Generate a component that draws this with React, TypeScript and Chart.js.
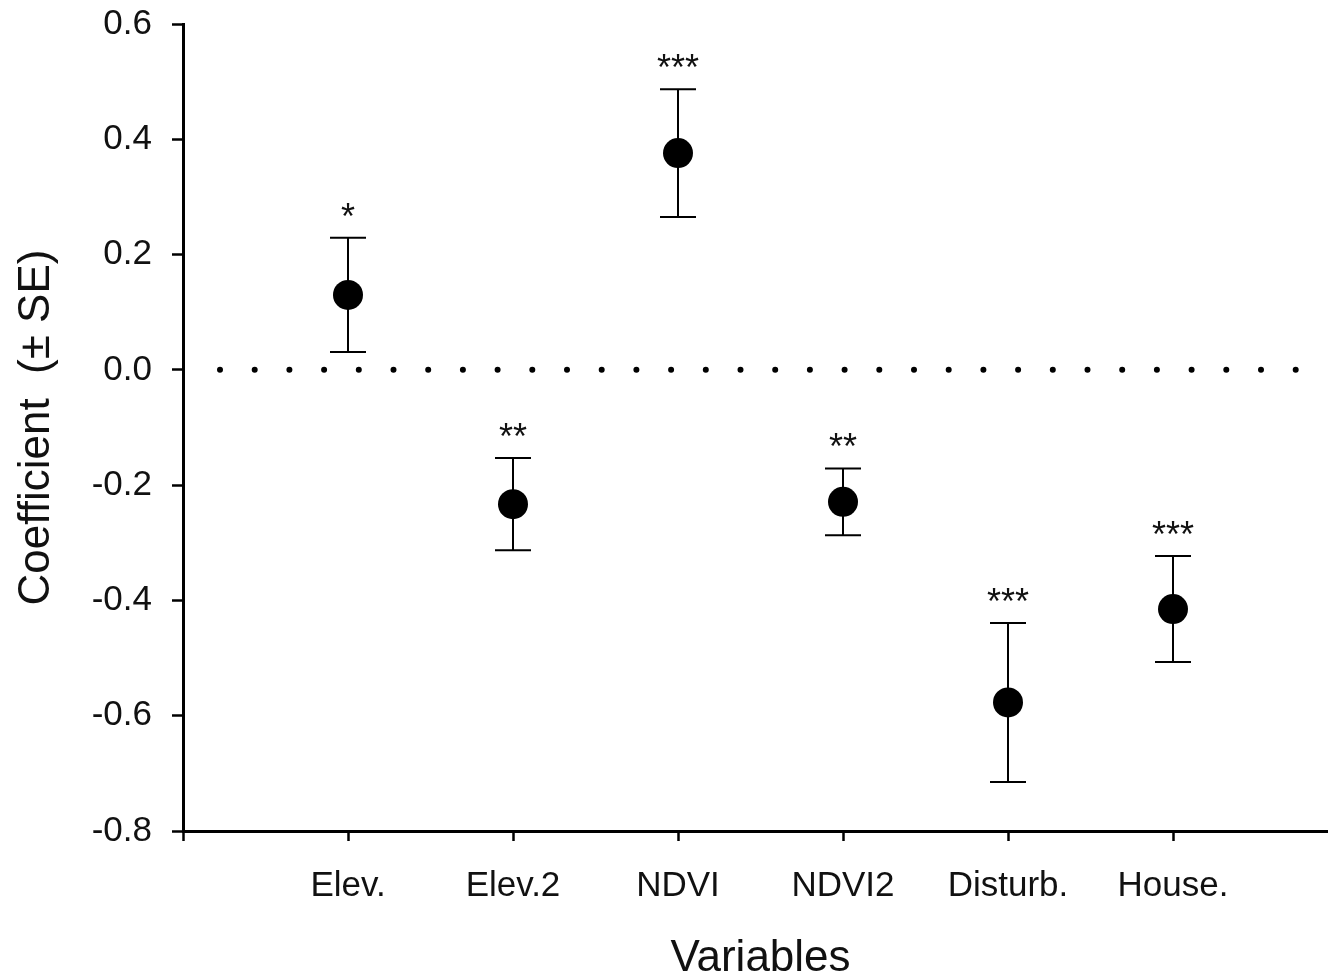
import React, { useEffect, useRef } from "react";
import { Chart, registerables } from "chart.js";

Chart.register(...registerables);

// ---- data ----
const categories = ["Elev.", "Elev.2", "NDVI", "NDVI2", "Disturb.", "House."];
const coefficients = [0.13, -0.233, 0.376, -0.229, -0.577, -0.415];
const standardErrors = [0.099, 0.08, 0.111, 0.058, 0.138, 0.092];
const significance = ["*", "**", "***", "**", "***", "***"];
const yTicks = [-0.8, -0.6, -0.4, -0.2, 0.0, 0.2, 0.4, 0.6];
const xTicks = [0, 1, 2, 3, 4, 5, 6, 7];

const FONT = "'Liberation Sans', Arial, Helvetica, sans-serif";
const TEXT = "#111";

const errorBarPlugin = {
  id: "errorBarsAndMarks",
  beforeDatasetsDraw(chart: any) {
    const { ctx, chartArea } = chart;
    const x = chart.scales.x;
    const y = chart.scales.y;
    ctx.save();
    // dotted zero reference line
    const y0 = y.getPixelForValue(0);
    ctx.beginPath();
    ctx.setLineDash([0, 34.7]);
    ctx.lineCap = "round";
    ctx.lineWidth = 6;
    ctx.strokeStyle = "#000";
    ctx.moveTo(chartArea.left + 37, y0);
    ctx.lineTo(chartArea.left + 37 + 31 * 34.7 + 1, y0);
    ctx.stroke();
    ctx.setLineDash([]);
    ctx.lineCap = "butt";

    // error bars (± SE)
    ctx.lineWidth = 2;
    ctx.strokeStyle = "#000";
    coefficients.forEach((c, i) => {
      const px = x.getPixelForValue(i + 1);
      const top = y.getPixelForValue(c + standardErrors[i]);
      const bot = y.getPixelForValue(c - standardErrors[i]);
      ctx.beginPath();
      ctx.moveTo(px, top);
      ctx.lineTo(px, bot);
      ctx.moveTo(px - 18, top);
      ctx.lineTo(px + 18, top);
      ctx.moveTo(px - 18, bot);
      ctx.lineTo(px + 18, bot);
      ctx.stroke();
    });
    ctx.restore();
  },
  afterDatasetsDraw(chart: any) {
    const { ctx } = chart;
    const x = chart.scales.x;
    const y = chart.scales.y;
    ctx.save();
    ctx.fillStyle = TEXT;
    ctx.font = `36px ${FONT}`;
    ctx.textAlign = "center";
    ctx.textBaseline = "alphabetic";
    coefficients.forEach((c, i) => {
      const px = x.getPixelForValue(i + 1);
      const top = y.getPixelForValue(c + standardErrors[i]);
      ctx.fillText(significance[i], px, top - 9);
    });
    ctx.restore();
  },
};

export default function App() {
  const ref = useRef<HTMLCanvasElement>(null);

  useEffect(() => {
    if (!ref.current) return;
    const chart = new Chart(ref.current, {
      type: "scatter",
      data: {
        datasets: [
          {
            data: coefficients.map((c, i) => ({ x: i + 1, y: c })),
            backgroundColor: "#000",
            borderColor: "#000",
            pointRadius: 15,
            pointHoverRadius: 15,
            borderWidth: 0,
          },
        ],
      },
      options: {
        animation: false,
        responsive: true,
        maintainAspectRatio: false,
        events: [],
        layout: { autoPadding: false, padding: { top: 24, right: 7, left: 0, bottom: 0 } },
        plugins: {
          legend: { display: false },
          tooltip: { enabled: false },
        },
        scales: {
          x: {
            type: "linear",
            min: 0,
            max: 7,
            afterBuildTicks: (s: any) => {
              s.ticks = xTicks.map((v) => ({ value: v }));
            },
            afterFit: (s: any) => {
              s.height = 145;
              s.paddingLeft = 0;
              s.paddingRight = 0;
              s.paddingTop = 0;
              s.paddingBottom = 0;
            },
            border: { display: true, color: "#000", width: 3 },
            grid: {
              drawOnChartArea: false,
              drawTicks: true,
              tickLength: 10,
              tickWidth: 2.5,
              tickColor: "#000",
            },
            ticks: {
              autoSkip: false,
              maxRotation: 0,
              minRotation: 0,
              padding: 24,
              color: TEXT,
              font: { family: FONT, size: 35 },
              callback: (v: any) => categories[Number(v) - 1] ?? "",
            },
            title: {
              display: true,
              text: "Variables",
              color: TEXT,
              font: { family: FONT, size: 44, lineHeight: 0.8 },
              padding: { top: 0, bottom: 0 },
            },
          },
          y: {
            type: "linear",
            min: -0.8,
            max: 0.6,
            afterBuildTicks: (s: any) => {
              s.ticks = yTicks.map((v) => ({ value: v }));
            },
            afterFit: (s: any) => {
              s.width = 183;
              s.paddingLeft = 0;
              s.paddingRight = 0;
              s.paddingTop = 0;
              s.paddingBottom = 0;
            },
            border: { display: true, color: "#000", width: 3 },
            grid: {
              drawOnChartArea: false,
              drawTicks: true,
              tickLength: 11,
              tickWidth: 2.5,
              tickColor: "#000",
            },
            ticks: {
              padding: 20,
              color: TEXT,
              font: { family: FONT, size: 35 },
              callback: (v: any) => {
                const s = Number(v).toFixed(1);
                return s === "-0.0" ? "0.0" : s;
              },
            },
            title: {
              display: true,
              text: "Coefficient  (± SE)",
              color: TEXT,
              font: { family: FONT, size: 44 },
              padding: { top: 10, bottom: 0 },
            },
          },
        },
      },
      plugins: [errorBarPlugin],
    } as any);
    return () => chart.destroy();
  }, []);

  return (
    <div
      style={{
        position: "fixed",
        left: 0,
        top: 0,
        width: 1328,
        height: 976,
        overflow: "hidden",
        background: "#fff",
      }}
    >
      <div style={{ position: "relative", width: 1345, height: 976 }}>
        <canvas ref={ref} />
      </div>
    </div>
  );
}
